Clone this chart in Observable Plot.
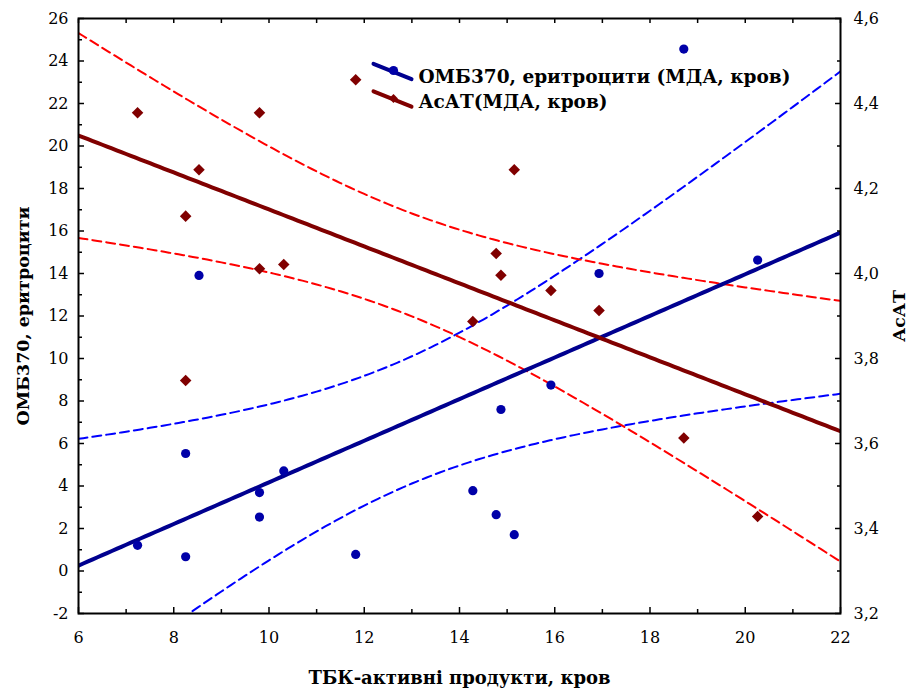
<!DOCTYPE html>
<html>
<head>
<meta charset="utf-8">
<script src="https://cdn.jsdelivr.net/npm/d3@7"></script>
<script src="https://cdn.jsdelivr.net/npm/@observablehq/plot@0.6"></script>
<style>
  html, body { margin: 0; padding: 0; background: #fff; }
  #chart { width: 914px; height: 688px; }
</style>
</head>
<body>
<div id="chart"></div>
<script>
// ---- data ----
const tbk  = [7.24, 8.25, 8.25, 8.53, 9.80, 9.80, 10.31, 11.82, 14.28, 14.77, 14.87, 15.15, 15.92, 16.93, 18.71, 20.26];
const omb  = [1.21, 5.53, 0.67, 13.91, 3.69, 2.54, 4.71, 0.78, 3.78, 2.65, 7.60, 1.71, 8.75, 14.00, 24.56, 14.63];
const asat = [4.378, 3.748, 4.135, 4.244, 4.378, 4.011, 4.021, 4.456, 3.887, 4.047, 3.996, 4.244, 3.960, 3.913, 3.613, 3.428];

const xTicks = [6, 8, 10, 12, 14, 16, 18, 20, 22];
const leftTicks = [-2, 0, 2, 4, 6, 8, 10, 12, 14, 16, 18, 20, 22, 24, 26];
const rightTicks = [3.2, 3.4, 3.6, 3.8, 4.0, 4.2, 4.4, 4.6];
const rightMinor = [3.3, 3.5, 3.7, 3.9, 4.1, 4.3, 4.5];

const seriesNames = ["ОМБ370, еритроцити (МДА, кров)", "АсАТ(МДА, кров)"];
const xTitle = "ТБК-активні продукти, кров";
const yTitle = "ОМБ370, еритроцити";
const y2Title = "АсАТ";

const xDomain = [6, 22];
const leftDomain = [-2, 26];
const rightDomain = [3.2, 4.6];
const tCrit = 2.1448; // Student t, 95%, df = n - 2 = 14

// ---- helpers ----
const toLeft = d3.scaleLinear().domain(rightDomain).range(leftDomain);
const fmtComma = d => d3.format(".1f")(d).replace(".", ",");
const xMinor = d3.range(xDomain[0] + 1, xDomain[1], 2);
const xAll = d3.range(xDomain[0], xDomain[1] + 0.5, 1);
const leftMinor = d3.range(leftDomain[0] + 1, leftDomain[1], 2);

function regression(xs, ys) {
  const n = xs.length;
  const mx = d3.mean(xs), my = d3.mean(ys);
  const sxx = d3.sum(xs, x => (x - mx) ** 2);
  const sxy = d3.sum(xs, (x, i) => (x - mx) * (ys[i] - my));
  const b = sxy / sxx, a = my - b * mx;
  const sse = d3.sum(xs, (x, i) => (ys[i] - a - b * x) ** 2);
  const s = Math.sqrt(sse / (n - 2));
  const grid = d3.range(xDomain[0], xDomain[1] + 1e-9, (xDomain[1] - xDomain[0]) / 160);
  const hw = x => tCrit * s * Math.sqrt(1 / n + (x - mx) ** 2 / sxx);
  return {
    fit: grid.map(x => ({x, y: a + b * x})),
    lo: grid.map(x => ({x, y: a + b * x - hw(x)})),
    hi: grid.map(x => ({x, y: a + b * x + hw(x)}))
  };
}

const blueData = tbk.map((x, i) => ({x, y: omb[i]}));
const redData = tbk.map((x, i) => ({x, y: toLeft(asat[i])}));
const blueReg = regression(tbk, omb);
const redReg = regression(tbk, redData.map(d => d.y));

const NAVY = "#00008f", NAVYDOT = "#0000a8", MAROON = "#800000";
const dash = "9,5";

const lineShape = { draw(context, l) { context.moveTo(0, 0); context.lineTo(0, -l); } };

const chart = Plot.plot({
  width: 914,
  height: 688,
  marginLeft: 78,
  marginRight: 74,
  marginTop: 18,
  marginBottom: 75,
  x: {domain: xDomain, label: null},
  y: {domain: leftDomain, label: null},
  style: {fontFamily: "'DejaVu Serif', serif", fontSize: "15px", color: "black", background: "white"},
  marks: [
    // confidence bands
    Plot.line(blueReg.lo, {x: "x", y: "y", stroke: "#0000ff", strokeWidth: 2, strokeDasharray: dash, clip: true}),
    Plot.line(blueReg.hi, {x: "x", y: "y", stroke: "#0000ff", strokeWidth: 2, strokeDasharray: dash, clip: true}),
    Plot.line(redReg.lo, {x: "x", y: "y", stroke: "#ff0000", strokeWidth: 2, strokeDasharray: dash, clip: true}),
    Plot.line(redReg.hi, {x: "x", y: "y", stroke: "#ff0000", strokeWidth: 2, strokeDasharray: dash, clip: true}),
    // regression lines
    Plot.line(blueReg.fit, {x: "x", y: "y", stroke: NAVY, strokeWidth: 4, clip: true}),
    Plot.line(redReg.fit, {x: "x", y: "y", stroke: MAROON, strokeWidth: 4, clip: true}),
    // points
    Plot.dot(redData, {x: "x", y: "y", symbol: "diamond2", r: 5.2, fill: MAROON, stroke: "none"}),
    Plot.dot(blueData, {x: "x", y: "y", r: 4.6, fill: NAVYDOT, stroke: "none"}),
    // frame
    Plot.frame({stroke: "black", strokeWidth: 2}),
    // bottom axis
    Plot.axisX(xTicks, {anchor: "bottom", tickSize: 0, tickPadding: 18, tickFormat: d => String(d), fontSize: 16, label: null}),
    Plot.axisX(xTicks, {anchor: "bottom", tickSize: -6, fill: "none", strokeWidth: 1.5, label: null}),
    Plot.axisX(xMinor, {anchor: "bottom", tickSize: -4, fill: "none", strokeWidth: 1.5, label: null}),
    // top ticks
    Plot.axisX(xAll, {anchor: "top", tickSize: -4, fill: "none", strokeWidth: 1.5, label: null}),
    // left axis
    Plot.axisY(leftTicks, {anchor: "left", tickSize: 0, tickPadding: 10, tickFormat: d => String(d), fontSize: 16, label: null}),
    Plot.axisY(leftTicks, {anchor: "left", tickSize: -6, fill: "none", strokeWidth: 1.5, label: null}),
    Plot.axisY(leftMinor, {anchor: "left", tickSize: -4, fill: "none", strokeWidth: 1.5, label: null}),
    // right axis (АсАТ scale mapped onto the left scale)
    Plot.axisY(rightTicks.map(toLeft), {anchor: "right", tickSize: 0, tickPadding: 13, tickFormat: d => fmtComma(toLeft.invert(d)), fontSize: 16, label: null}),
    Plot.axisY(rightTicks.map(toLeft), {anchor: "right", tickSize: -6, fill: "none", strokeWidth: 1.5, label: null}),
    Plot.axisY(rightMinor.map(toLeft), {anchor: "right", tickSize: -4, fill: "none", strokeWidth: 1.5, label: null}),
    // axis titles
    Plot.text([xTitle], {frameAnchor: "bottom", dy: 65, textAnchor: "middle", lineAnchor: "middle", fontWeight: "bold", fontSize: 18}),
    Plot.text([yTitle], {frameAnchor: "left", dx: -55, rotate: -90, textAnchor: "middle", lineAnchor: "middle", fontWeight: "bold", fontSize: 17.5}),
    Plot.text([y2Title], {frameAnchor: "right", dx: 59, rotate: -90, textAnchor: "middle", lineAnchor: "middle", fontWeight: "bold", fontSize: 17.5}),
    // legend
    Plot.vector([0], {frameAnchor: "top-left", dx: 314, dy: 53, length: 41, rotate: 112, anchor: "middle", shape: lineShape, stroke: NAVY, strokeWidth: 4}),
    Plot.dot([0], {frameAnchor: "top-left", dx: 315, dy: 52, r: 4.6, fill: NAVYDOT}),
    Plot.vector([0], {frameAnchor: "top-left", dx: 314, dy: 80.5, length: 41, rotate: 112, anchor: "middle", shape: lineShape, stroke: MAROON, strokeWidth: 4}),
    Plot.dot([0], {frameAnchor: "top-left", dx: 315, dy: 80, symbol: "diamond2", r: 4, fill: MAROON}),
    Plot.text([seriesNames[0]], {frameAnchor: "top-left", dx: 340, dy: 59, textAnchor: "start", lineAnchor: "middle", fontWeight: "bold", fontSize: 18.5}),
    Plot.text([seriesNames[1]], {frameAnchor: "top-left", dx: 340, dy: 84, textAnchor: "start", lineAnchor: "middle", fontWeight: "bold", fontSize: 18.5})
  ]
});
document.getElementById("chart").appendChild(chart);
</script>
</body>
</html>
